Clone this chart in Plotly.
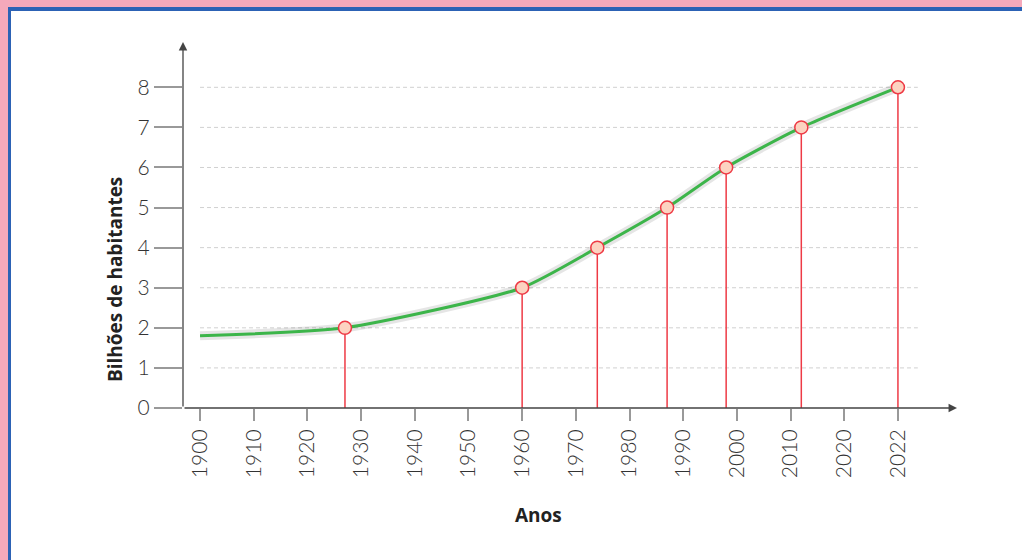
import numpy as np
import plotly.graph_objects as go

# ---- data ----
tick_years = [1900, 1910, 1920, 1930, 1940, 1950, 1960, 1970, 1980, 1990, 2000, 2010, 2020, 2022]
tick_labels = [str(y) for y in tick_years]
curve_years = [1900, 1927, 1960, 1974, 1987, 1998, 2012, 2022]
curve_pop = [1.8, 2, 3, 4, 5, 6, 7, 8]
marker_years = [1927, 1960, 1974, 1987, 1998, 2012, 2022]
marker_pop = [2, 3, 4, 5, 6, 7, 8]
y_ticks = [0, 1, 2, 3, 4, 5, 6, 7, 8]

# axis scale: ticks are evenly spaced slots (2022 takes its own slot)
slots = list(range(len(tick_years)))
def pos(years):
    return list(np.interp(years, tick_years, slots))

cx = pos(curve_years)
mx = pos(marker_years)

W, H = 1022, 560
L, R, T, B = 183, 65, 42, 152
pw, ph = W - L - R, H - T - B
XMIN, XMAX = -0.317, 14.1
YMIN, YMAX = 0, 9.13

FONT = "Lato"
TXT = "#333333"
GREEN = "#3cb54a"
RED = "#ee3a45"

fig = go.Figure()

# drop lines
dx, dy = [], []
for x, v in zip(mx, marker_pop):
    dx += [x, x, None]
    dy += [v, 0, None]
fig.add_trace(go.Scatter(x=dx, y=dy, mode="lines",
                         line=dict(color=RED, width=1.5), hoverinfo="skip", showlegend=False))

# shadow halo + curve
fig.add_trace(go.Scatter(x=cx, y=curve_pop, mode="lines",
                         line=dict(color="rgba(0,0,0,0.10)", width=9, shape="spline", smoothing=0.6),
                         hoverinfo="skip", showlegend=False))
fig.add_trace(go.Scatter(x=cx, y=curve_pop, mode="lines",
                         line=dict(color=GREEN, width=3, shape="spline", smoothing=0.6),
                         showlegend=False))
# markers
fig.add_trace(go.Scatter(x=mx, y=marker_pop, mode="markers",
                         marker=dict(size=13, color="#fcd3c1", line=dict(color=RED, width=1.5)),
                         showlegend=False))

shapes = []
# dashed gridlines
for v in y_ticks[1:]:
    shapes.append(dict(type="line", xref="x", yref="y", x0=0, x1=13.37, y0=v, y1=v,
                       line=dict(color="#d0d0d0", width=1, dash="4px,3px"), layer="below"))

# frame: pink outer band, blue border (top and left)
def px_x(p):
    return (p - L) / pw
def px_y(p):
    return 1 - (p - T) / ph
shapes += [
    dict(type="rect", xref="paper", yref="paper", x0=px_x(0), x1=px_x(W), y0=px_y(0), y1=px_y(7),
         fillcolor="#f5a9bb", line=dict(width=0), layer="above"),
    dict(type="rect", xref="paper", yref="paper", x0=px_x(0), x1=px_x(8), y0=px_y(0), y1=px_y(H),
         fillcolor="#f5a9bb", line=dict(width=0), layer="above"),
    dict(type="rect", xref="paper", yref="paper", x0=px_x(8), x1=px_x(W), y0=px_y(7), y1=px_y(11),
         fillcolor="#2c62b5", line=dict(width=0), layer="above"),
    dict(type="rect", xref="paper", yref="paper", x0=px_x(8), x1=px_x(11), y0=px_y(7), y1=px_y(H),
         fillcolor="#2c62b5", line=dict(width=0), layer="above"),
]

annotations = [
    # x axis arrow
    dict(x=XMAX, y=0, ax=XMIN, ay=0, xref="x", yref="y", axref="x", ayref="y",
         showarrow=True, arrowhead=2, arrowsize=1.3, arrowwidth=1.3, arrowcolor="#444444", text=""),
    # y axis arrow
    dict(x=XMIN, y=YMAX, ax=XMIN, ay=0, xref="x", yref="y", axref="x", ayref="y",
         showarrow=True, arrowhead=2, arrowsize=1.3, arrowwidth=1.3, arrowcolor="#444444", text=""),
    dict(text="<b>Bilhões de habitantes</b>", xref="paper", yref="paper",
         x=px_x(115), y=px_y(280), xanchor="center", yanchor="middle",
         textangle=-90, showarrow=False,
         font=dict(family="Open Sans", size=19, color="#222222")),
    dict(text="<b>Anos</b>", xref="paper", yref="paper",
         x=px_x(538), y=px_y(515), xanchor="center", yanchor="middle", showarrow=False,
         font=dict(family="Open Sans", size=19, color="#222222")),
]

fig.update_layout(
    width=W, height=H,
    margin=dict(l=L, r=R, t=T, b=B),
    paper_bgcolor="white", plot_bgcolor="white",
    shapes=shapes, annotations=annotations,
    font=dict(family=FONT, color=TXT),
    xaxis=dict(range=[XMIN, XMAX], tickmode="array", tickvals=slots, ticktext=tick_labels,
               tickangle=-90, ticks="outside", ticklen=12, tickcolor="#999999", tickwidth=1.5,
               showgrid=False, zeroline=False, showline=False,
               tickfont=dict(family=FONT, size=21, color=TXT, weight=300)),
    yaxis=dict(range=[YMIN, YMAX], tickmode="array", tickvals=y_ticks,
               ticks="outside", ticklen=28, tickcolor="#999999", tickwidth=1.5,
               showgrid=False, zeroline=False, showline=False,
               tickfont=dict(family=FONT, size=21, color=TXT, weight=300)),
)

fig.write_html("out.html")
